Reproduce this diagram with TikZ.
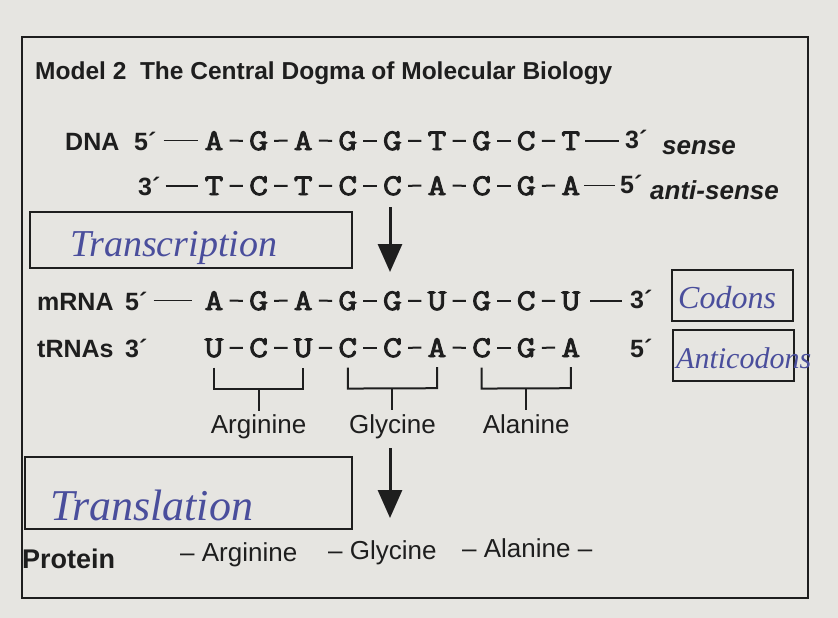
\documentclass[tikz,border=0pt]{standalone}
\usepackage{fontspec}
\setmainfont{Liberation Sans}
\newfontfamily\handfont{Liberation Serif}
\newfontfamily\nucfont{Latin Modern Mono}[FakeBold=3, FakeStretch=1.22]
\usetikzlibrary{arrows.meta,calc}
\definecolor{paper}{HTML}{E6E5E1}
\definecolor{ink}{HTML}{1E1E1E}
\definecolor{pen}{HTML}{4A4E9C}
\tikzset{
  lbl/.style={font=\fontsize{25}{25}\selectfont\bfseries, anchor=base west, inner sep=0pt, text=ink},
  prime/.style={font=\fontsize{25}{25}\selectfont\bfseries, anchor=base west, inner sep=0pt, text=ink},
  sidenote/.style={font=\fontsize{26}{26}\selectfont\bfseries\itshape, anchor=base west, inner sep=0pt, text=ink},
  nuc/.style={font=\fontsize{30}{30}\selectfont\nucfont, anchor=base, inner sep=0pt, text=ink},
  bond/.style={line width=2pt, draw=ink, shorten >=6pt, shorten <=6pt},
  longbond/.style={line width=1.5pt, draw=ink},
  amino/.style={font=\fontsize{26}{26}\selectfont, anchor=base, inner sep=0pt, text=ink},
  protein/.style={font=\fontsize{26}{26}\selectfont, anchor=base west, inner sep=0pt, text=ink},
  brk/.style={line width=2pt, draw=ink},
  flow/.style={line width=3pt, draw=ink, -{Triangle[length=28pt,width=24pt]}},
  answerbox/.style={line width=1.8pt, draw=ink},
  hand/.style={text=pen, inner sep=0pt, anchor=base west},
}
\begin{document}
\begin{tikzpicture}[x=1pt,y=-1pt]
\useasboundingbox (0,0) rectangle (838,618);
\fill[paper] (0,0) rectangle (838,618);
% frame
\draw[line width=2pt, ink] (22,37) rectangle (808,598);
% title
\node[font=\fontsize{24.5}{24.5}\selectfont\bfseries, anchor=base west, inner sep=0pt, text=ink] (title) at (35,80) {Model 2\ \ The Central Dogma of Molecular Biology};

% DNA sense strand
\node[lbl] (dnalbl) at (65,150) {DNA};
\node[prime] (sFive) at (134,150) {5´};
\foreach \b [count=\i from 0] in {A,G,A,G,G,T,G,C,T}{
  \node[nuc] (d\i) at ({214+44.6*\i},150) {\b};
}
\foreach \i [evaluate=\i as \j using int(\i+1)] in {0,...,7}{
  \draw[bond] (d\i.east) -- (d\j.west);
}
\node[prime] (sThree) at (625,148) {3´};
\node[sidenote] (sense) at (662,154) {sense};
\draw[longbond] ([xshift=7pt]sFive.east |- d0.west) -- ([xshift=-6pt]d0.west);
\draw[longbond] ([xshift=5pt]d8.east) -- ([xshift=-6pt]sThree.west |- d8.east);

% DNA anti-sense strand
\node[prime] (aThree) at (138,195) {3´};
\foreach \b [count=\i from 0] in {T,C,T,C,C,A,C,G,A}{
  \node[nuc] (a\i) at ({214+44.6*\i},195) {\b};
}
\foreach \i [evaluate=\i as \j using int(\i+1)] in {0,...,7}{
  \draw[bond] (a\i.east) -- (a\j.west);
}
\node[prime] (aFive) at (620,193) {5´};
\node[sidenote] (antisense) at (650,199) {anti-sense};
\draw[longbond] ([xshift=5pt]aThree.east |- a0.west) -- ([xshift=-6pt]a0.west);
\draw[longbond] ([xshift=4pt]a8.east) -- ([xshift=-5pt]aFive.west |- a8.east);

% transcription box
\draw[answerbox] (30,212) rectangle (352,268);
\node[hand, font=\handfont\itshape\fontsize{38}{38}\selectfont] (transcr) at (70,256) {Transcription};

% mRNA
\node[lbl] (mlbl) at (37,310) {mRNA};
\node[prime] (mFive) at (125,310) {5´};
\foreach \b [count=\i from 0] in {A,G,A,G,G,U,G,C,U}{
  \node[nuc] (m\i) at ({214+44.6*\i},310) {\b};
}
\foreach \i [evaluate=\i as \j using int(\i+1)] in {0,...,7}{
  \draw[bond] (m\i.east) -- (m\j.west);
}
\node[prime] (mThree) at (630,308) {3´};
\draw[longbond] ([xshift=6pt]mFive.east |- m0.west) -- ([xshift=-12pt]m0.west);
\draw[longbond] ([xshift=10pt]m8.east) -- ([xshift=-8pt]mThree.west |- m8.east);
\draw[answerbox] (672,270) rectangle (793,321);
\node[hand, font=\handfont\itshape\fontsize{32}{32}\selectfont] (codons) at (678,308) {Codons};

% transcription arrow
\coordinate (tx1) at (390,207);
\coordinate (tx2) at (390,272);
\draw[flow] (tx1) -- (tx2);

% tRNA
\node[lbl] (tlbl) at (37,357) {tRNAs};
\node[prime] (tThree) at (125,357) {3´};
\foreach \b [count=\i from 0] in {U,C,U,C,C,A,C,G,A}{
  \node[nuc] (t\i) at ({214+44.6*\i},357) {\b};
}
\foreach \i [evaluate=\i as \j using int(\i+1)] in {0,...,7}{
  \draw[bond] (t\i.east) -- (t\j.west);
}
\node[prime] (tFive) at (630,357) {5´};
\draw[answerbox] (673,330) rectangle (794,381);
\node[hand, font=\handfont\itshape\fontsize{30}{30}\selectfont] (anticodons) at (676,368) {Anticodons};

% brackets and amino acids
\foreach \k/\l/\r/\aa in {0/0/2/Arginine,1/3/5/Glycine,2/6/8/Alanine}{
  \draw[brk] ([yshift=-10pt]t\l.south) -- ([yshift=-31pt]t\l.south) -- ([yshift=-31pt]t\r.south) -- ([yshift=-10pt]t\r.south);
  \coordinate (stem\k) at ($(t\l.south)!0.5!(t\r.south)+(0,31)$);
  \node[amino] (aa\k) at ($(stem\k)+(0,45)$) {\aa};
  \draw[brk] (stem\k) -- ([yshift=4pt]aa\k.north);
}

% translation
\draw[answerbox] (25,457) rectangle (352,529);
\node[hand, font=\handfont\itshape\fontsize{44}{44}\selectfont] (transl) at (50,520) {Translation};
\coordinate (tl1) at (390,448);
\coordinate (tl2) at (390,518);
\draw[flow] (tl1) -- (tl2);

% protein
\node[font=\fontsize{27}{27}\selectfont\bfseries, anchor=base west, inner sep=0pt, text=ink] (prot) at (22,568) {Protein};
\node[protein] (p1) at (180,561) {– Arginine};
\node[protein] (p2) at (328,559) {– Glycine};
\node[protein] (p3) at (462,557) {– Alanine –};
\end{tikzpicture}
\end{document}
